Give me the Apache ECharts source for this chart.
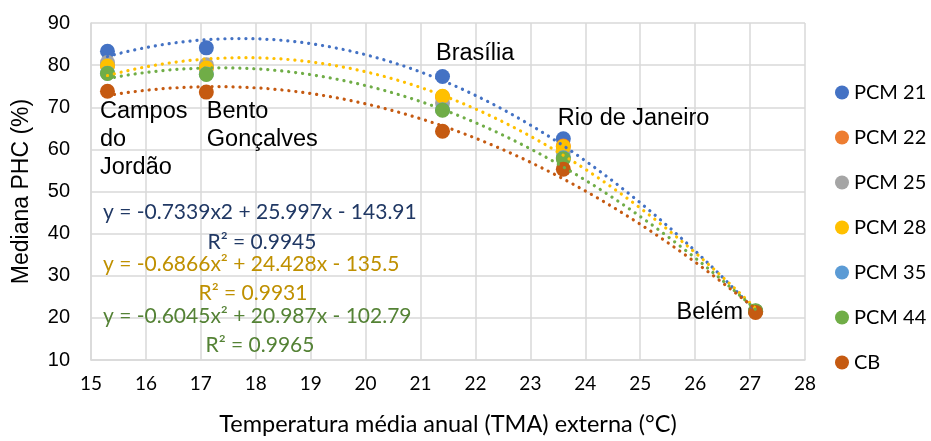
<!DOCTYPE html>
<html>
<head>
<meta charset="utf-8">
<script src="https://cdn.jsdelivr.net/npm/echarts@6/dist/echarts.min.js"></script>
<style>
  html, body { margin: 0; padding: 0; background: #fff; }
  #chart { width: 931px; height: 441px; }
</style>
</head>
<body>
<div id="chart"></div>
<script>
// Cities and their mean annual outdoor temperature (°C)
const sites = ['Campos\ndo\nJordão', 'Bento\nGonçalves', 'Brasília', 'Rio de Janeiro', 'Belém'];
const tma = [15.3, 17.1, 21.4, 23.6, 27.1];

// Median PHC (%) per material, one value per city
const pcm21 = [83.3, 84.1, 77.3, 62.5, 21.6];
const pcm22 = [79.9, 79.4, 72.5, 60.8, 21.5];
const pcm25 = [80.6, 80.1, 71.0, 59.4, 21.5];
const pcm28 = [79.8, 79.3, 72.6, 60.6, 21.6];
const pcm35 = [78.1, 77.9, 69.4, 58.0, 21.6];
const pcm44 = [78.0, 77.8, 69.3, 57.8, 21.7];
const cb    = [73.8, 73.6, 64.3, 55.3, 21.3];

const seriesNames = ['PCM 21', 'PCM 22', 'PCM 25', 'PCM 28', 'PCM 35', 'PCM 44', 'CB'];
const seriesColors = ['#4472C4', '#ED7D31', '#A5A5A5', '#FFC000', '#5B9BD5', '#70AD47', '#C55A11'];

// Axis ranges
const xRange = [15, 28, 1];
const yRange = [10, 90, 10];

// Published polynomial trendlines (a·x² + b·x + c) and their R²
const fitPcm21 = [-0.7339, 25.997, -143.91];
const fitPcm28 = [-0.6866, 24.428, -135.5];
const fitPcm44 = [-0.6045, 20.987, -102.79];
const r2Values = ['0.9945', '0.9931', '0.9965'];
const eqTexts = [
  'y = -0.7339x2 + 25.997x - 143.91',
  'y = -0.6866x\u00B2 + 24.428x - 135.5',
  'y = -0.6045x\u00B2 + 20.987x - 102.79'
];

// Least-squares quadratic fit, used for the CB trendline
function quadFit(xs, ys) {
  const n = xs.length;
  let s = [0, 0, 0, 0, 0], t = [0, 0, 0];
  for (let i = 0; i < n; i++) {
    const x = xs[i], y = ys[i];
    for (let k = 0; k < 5; k++) s[k] += Math.pow(x, k);
    for (let k = 0; k < 3; k++) t[k] += y * Math.pow(x, k);
  }
  // normal equations for [c, b, a]
  const M = [
    [s[0], s[1], s[2], t[0]],
    [s[1], s[2], s[3], t[1]],
    [s[2], s[3], s[4], t[2]]
  ];
  for (let i = 0; i < 3; i++) {
    let p = i;
    for (let r = i + 1; r < 3; r++) if (Math.abs(M[r][i]) > Math.abs(M[p][i])) p = r;
    [M[i], M[p]] = [M[p], M[i]];
    for (let r = 0; r < 3; r++) {
      if (r === i) continue;
      const f = M[r][i] / M[i][i];
      for (let c = i; c < 4; c++) M[r][c] -= f * M[i][c];
    }
  }
  const c = M[0][3] / M[0][0], b = M[1][3] / M[1][1], a = M[2][3] / M[2][2];
  return [a, b, c];
}
const fitCb = quadFit(tma, cb);

// Sample a trendline over the span of the observed temperatures
function curve(coef) {
  const lo = Math.min(...tma), hi = Math.max(...tma);
  const pts = [];
  const steps = 120;
  for (let i = 0; i <= steps; i++) {
    const x = lo + (hi - lo) * i / steps;
    pts.push([x, coef[0] * x * x + coef[1] * x + coef[2]]);
  }
  return pts;
}

const ARIAL = 'Liberation Sans, Arial, sans-serif';
const CALIBRI = 'Lato, Carlito, Calibri, sans-serif';

// City label placement, relative to the symbol's box
const siteLabel = [
  { series: 6, position: [0, 14], align: 'left' },
  { series: 6, position: [8, 13], align: 'left' },
  { series: 0, position: [1, -29], align: 'left' },
  { series: 0, position: [2, -27], align: 'left' },
  { series: 6, position: 'left', align: 'right' }
];

const allValues = [pcm21, pcm22, pcm25, pcm28, pcm35, pcm44, cb];

const scatterSeries = allValues.map((vals, si) => ({
  name: seriesNames[si],
  type: 'scatter',
  symbol: 'circle',
  symbolSize: 15,
  z: 2,
  itemStyle: { color: seriesColors[si], opacity: 1 },
  data: vals.map((v, i) => {
    const item = { value: [tma[i], v] };
    const lab = siteLabel[i];
    if (lab.series === si) {
      item.label = {
        show: true,
        formatter: sites[i],
        position: lab.position,
        distance: 5,
        align: lab.align,
        verticalAlign: lab.position === 'left' ? 'middle' : 'top',
        fontFamily: ARIAL,
        fontSize: 23.5,
        lineHeight: 28,
        color: '#000'
      };
    }
    return item;
  })
}));

function trendSeries(coef, color) {
  return {
    type: 'line',
    data: curve(coef),
    showSymbol: false,
    symbol: 'none',
    silent: true,
    z: 3,
    lineStyle: { color: color, width: 3.2, type: [0.1, 6.9], cap: 'round' }
  };
}

const chart = echarts.init(document.getElementById('chart'), null, { renderer: 'canvas' });

const EQ_FONT = '21px ' + CALIBRI;

const option = {
  animation: false,
  backgroundColor: '#ffffff',
  grid: { left: 91, right: 126, top: 23, bottom: 79 },
  xAxis: {
    type: 'value',
    min: xRange[0], max: xRange[1], interval: xRange[2],
    name: 'Temperatura média anual (TMA) externa (°C)',
    nameLocation: 'middle',
    nameGap: 52,
    nameTextStyle: { fontFamily: CALIBRI, fontSize: 23.5, color: '#000' },
    axisLine: { show: true, lineStyle: { color: '#d9d9d9', width: 1.5 } },
    axisTick: { show: false },
    axisLabel: { fontFamily: CALIBRI, fontSize: 19, color: '#000', margin: 14 },
    splitLine: { show: true, lineStyle: { color: '#d9d9d9', width: 1.5 } }
  },
  yAxis: {
    type: 'value',
    min: yRange[0], max: yRange[1], interval: yRange[2],
    name: 'Mediana PHC (%)',
    nameLocation: 'middle',
    nameGap: 58,
    nameTextStyle: { fontFamily: ARIAL, fontSize: 23, color: '#000' },
    axisLine: { show: true, lineStyle: { color: '#d9d9d9', width: 1.5 } },
    axisTick: { show: false },
    axisLabel: { fontFamily: ARIAL, fontSize: 20, color: '#000', margin: 21 },
    splitLine: { show: true, lineStyle: { color: '#d9d9d9', width: 1.5 } }
  },
  legend: {
    orient: 'vertical',
    left: 835,
    top: 82,
    padding: 0,
    itemWidth: 14,
    itemHeight: 14,
    itemGap: 24,
    icon: 'circle',
    data: seriesNames,
    textStyle: { fontFamily: CALIBRI, fontSize: 20, lineHeight: 21, color: '#000', padding: [0, 0, 0, 0] }
  },
  graphic: [
    { type: 'text', left: 103, top: 202, z: 10, style: { text: eqTexts[0], font: EQ_FONT, fill: '#203864' } },
    { type: 'text', x: 262, y: 242, z: 10, style: { text: 'R\u00B2 = ' + r2Values[0], font: EQ_FONT, fill: '#203864', textAlign: 'center', textVerticalAlign: 'middle' } },
    { type: 'text', left: 103, top: 254, z: 10, style: { text: eqTexts[1], font: EQ_FONT, fill: '#BF9000' } },
    { type: 'text', x: 253, y: 293, z: 10, style: { text: 'R\u00B2 = ' + r2Values[1], font: EQ_FONT, fill: '#BF9000', textAlign: 'center', textVerticalAlign: 'middle' } },
    { type: 'text', left: 103, top: 306, z: 10, style: { text: eqTexts[2], font: EQ_FONT, fill: '#548235' } },
    { type: 'text', x: 260, y: 345, z: 10, style: { text: 'R\u00B2 = ' + r2Values[2], font: EQ_FONT, fill: '#548235', textAlign: 'center', textVerticalAlign: 'middle' } }
  ],
  series: scatterSeries.concat([
    trendSeries(fitPcm21, seriesColors[0]),
    trendSeries(fitPcm28, seriesColors[3]),
    trendSeries(fitPcm44, seriesColors[5]),
    trendSeries(fitCb, seriesColors[6])
  ])
};

chart.setOption(option);
</script>
</body>
</html>
